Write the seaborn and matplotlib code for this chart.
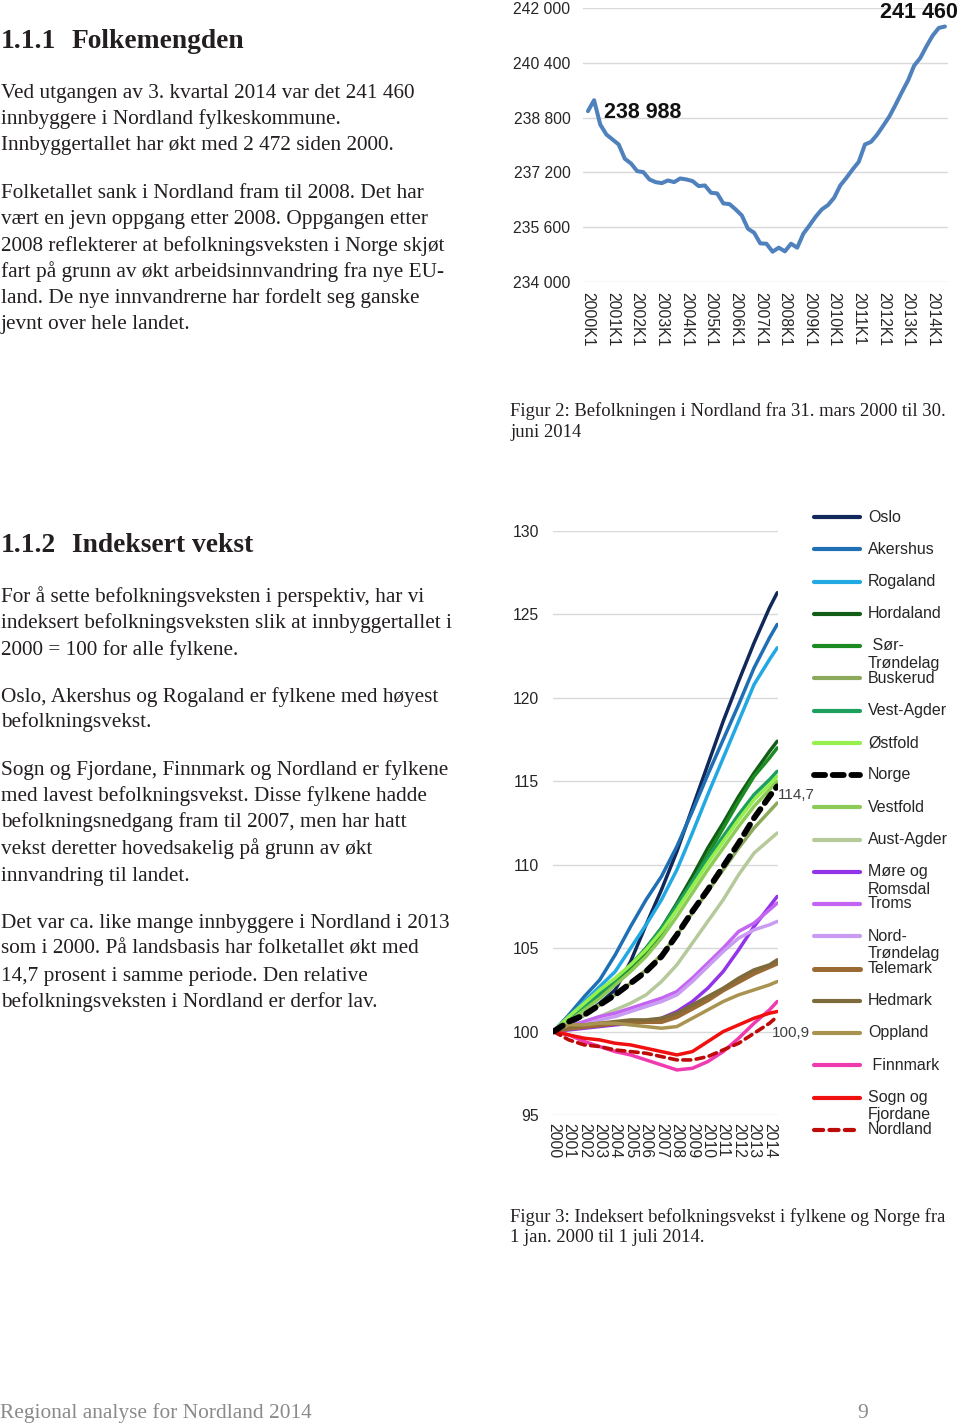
import numpy as np
import pandas as pd
import matplotlib
matplotlib.use('Agg')
import matplotlib.pyplot as plt
import seaborn as sns

# Figur 2: Befolkningen i Nordland (kvartal)
quarter_labels = ['{}K{}'.format(y, q) for y in range(2000, 2015) for q in range(1, 5)][:59]
nordland_pop = [238988, 239307, 238598, 238306, 238161, 238015, 237597, 237461,
                237237, 237208, 236994, 236916, 236887, 236965, 236916, 237023,
                236994, 236946, 236800, 236819, 236605, 236586, 236294, 236275,
                236119, 235944, 235556, 235439, 235128, 235118, 234885, 235002,
                234895, 235118, 235002, 235410, 235653, 235906, 236119, 236246,
                236460, 236819, 237043, 237286, 237509, 238015, 238093, 238306,
                238569, 238841, 239181, 239541, 239881, 240318, 240542, 240882,
                241193, 241417, 241460]
pop_ticks = [234000, 235600, 237200, 238800, 240400, 242000]
pop_tick_labels = ['234 000', '235 600', '237 200', '238 800', '240 400', '242 000']

# Figur 3: Indeksert befolkningsvekst (2000 = 100)
years = [2000, 2001, 2002, 2003, 2004, 2005, 2006, 2007, 2008, 2009, 2010, 2011, 2012, 2013, 2014, 2014.5]
year_ticks = [2000, 2001, 2002, 2003, 2004, 2005, 2006, 2007, 2008, 2009, 2010, 2011, 2012, 2013, 2014]
index_ticks = [95, 100, 105, 110, 115, 120, 125, 130]

oslo = [100, 100.4, 101.0, 101.7, 102.5, 104.2, 106.4, 108.5, 110.8, 113.4, 116.0, 118.6, 121.0, 123.3, 125.4, 126.3]
akershus = [100, 101.0, 102.1, 103.1, 104.6, 106.3, 107.9, 109.3, 111.1, 113.2, 115.4, 117.5, 119.6, 121.8, 123.6, 124.4]
rogaland = [100, 100.9, 101.8, 102.7, 103.6, 105.0, 106.4, 107.9, 109.7, 111.9, 114.2, 116.4, 118.6, 120.8, 122.3, 123.0]
hordaland = [100, 100.7, 101.4, 102.2, 103.0, 103.9, 105.0, 106.2, 107.7, 109.3, 111.0, 112.5, 114.1, 115.5, 116.8, 117.4]
sor_trondelag = [100, 100.8, 101.5, 102.2, 102.9, 103.7, 104.7, 105.9, 107.4, 109.0, 110.6, 112.2, 113.8, 115.3, 116.4, 117.0]
buskerud = [100, 100.5, 101.0, 101.6, 102.2, 102.9, 103.7, 104.6, 105.8, 107.1, 108.4, 109.7, 111.0, 112.2, 113.2, 113.7]
vest_agder = [100, 100.8, 101.5, 102.3, 103.1, 104.0, 105.0, 106.2, 107.6, 109.0, 110.4, 111.7, 113.0, 114.2, 115.1, 115.6]
ostfold = [100, 100.9, 101.7, 102.5, 103.2, 104.0, 104.9, 106.0, 107.3, 108.7, 110.1, 111.4, 112.7, 113.9, 114.8, 115.3]
norge = [100, 100.6, 101.0, 101.6, 102.2, 102.9, 103.6, 104.5, 105.8, 107.2, 108.5, 109.9, 111.3, 112.8, 114.1, 114.7]
vestfold = [100, 100.6, 101.3, 102.0, 102.8, 103.6, 104.5, 105.6, 106.9, 108.3, 109.7, 111.0, 112.3, 113.5, 114.5, 115.0]
aust_agder = [100, 100.3, 100.6, 100.9, 101.3, 101.7, 102.2, 103.0, 104.0, 105.3, 106.6, 107.9, 109.4, 110.7, 111.5, 111.9]
more_romsdal = [100, 100.1, 100.2, 100.3, 100.4, 100.5, 100.6, 100.8, 101.2, 101.8, 102.6, 103.6, 104.9, 106.3, 107.5, 108.1]
troms = [100, 100.3, 100.6, 100.9, 101.1, 101.4, 101.7, 102.0, 102.4, 103.2, 104.1, 105.0, 106.0, 106.5, 107.3, 107.7]
nord_trondelag = [100, 100.2, 100.4, 100.7, 100.9, 101.2, 101.5, 101.8, 102.2, 103.0, 103.9, 104.8, 105.6, 106.1, 106.4, 106.6]
telemark = [100, 100.2, 100.3, 100.4, 100.5, 100.6, 100.6, 100.6, 100.9, 101.4, 101.9, 102.5, 103.0, 103.5, 103.9, 104.1]
hedmark = [100, 100.3, 100.4, 100.5, 100.6, 100.7, 100.7, 100.8, 101.1, 101.6, 102.1, 102.6, 103.2, 103.7, 104.0, 104.3]
oppland = [100, 100.4, 100.4, 100.5, 100.5, 100.4, 100.3, 100.2, 100.3, 100.8, 101.3, 101.8, 102.2, 102.5, 102.8, 103.0]
finnmark = [100, 99.8, 99.4, 99.1, 98.8, 98.6, 98.3, 98.0, 97.7, 97.8, 98.2, 98.8, 99.6, 100.5, 101.3, 101.8]
sogn_fjordane = [100, 99.8, 99.6, 99.5, 99.3, 99.2, 99.0, 98.8, 98.6, 98.8, 99.4, 100.0, 100.4, 100.8, 101.1, 101.2]
nordland = [100, 99.5, 99.2, 99.1, 98.9, 98.8, 98.7, 98.5, 98.3, 98.3, 98.5, 98.9, 99.3, 99.9, 100.5, 100.9]

regions = ['Oslo', 'Akershus', 'Rogaland', 'Hordaland', ' Sør-\nTrøndelag', 'Buskerud', 'Vest-Agder',
           'Østfold', 'Norge', 'Vestfold', 'Aust-Agder', 'Møre og\nRomsdal', 'Troms', 'Nord-\nTrøndelag',
           'Telemark', 'Hedmark', 'Oppland', ' Finnmark', 'Sogn og\nFjordane', 'Nordland']
region_values = [oslo, akershus, rogaland, hordaland, sor_trondelag, buskerud, vest_agder,
                 ostfold, norge, vestfold, aust_agder, more_romsdal, troms, nord_trondelag,
                 telemark, hedmark, oppland, finnmark, sogn_fjordane, nordland]
colors = ['#10295A', '#1F6FB4', '#22A9E3', '#135E17', '#1C8C22', '#8DAA5C', '#1DA05E',
          '#96EF4B', '#000000', '#8CCB56', '#B6C99A', '#9234E8', '#C465F2', '#C99BF2',
          '#9A6A34', '#7E6B3C', '#A99350', '#F03AB0', '#F01010', '#BF0A0A']

# text
text_upper = ['Ved utgangen av 3. kvartal 2014 var det 241 460',
              'innbyggere i Nordland fylkeskommune.',
              'Innbyggertallet har økt med 2 472 siden 2000.',
              'Folketallet sank i Nordland fram til 2008. Det har',
              'vært en jevn oppgang etter 2008. Oppgangen etter',
              '2008 reflekterer at befolkningsveksten i Norge skjøt',
              'fart på grunn av økt arbeidsinnvandring fra nye EU-',
              'land. De nye innvandrerne har fordelt seg ganske',
              'jevnt over hele landet.']
baselines_upper = [98, 124, 150, 198, 224, 251, 277, 303, 329]
text_lower = ['For å sette befolkningsveksten i perspektiv, har vi',
              'indeksert befolkningsveksten slik at innbyggertallet i',
              '2000 = 100 for alle fylkene.',
              'Oslo, Akershus og Rogaland er fylkene med høyest',
              'befolkningsvekst.',
              'Sogn og Fjordane, Finnmark og Nordland er fylkene',
              'med lavest befolkningsvekst. Disse fylkene hadde',
              'befolkningsnedgang fram til 2007, men har hatt',
              'vekst deretter hovedsakelig på grunn av økt',
              'innvandring til landet.',
              'Det var ca. like mange innbyggere i Nordland i 2013',
              'som i 2000. På landsbasis har folketallet økt med',
              '14,7 prosent i samme periode. Den relative',
              'befolkningsveksten i Nordland er derfor lav.']
baselines_lower = [602, 628, 655, 702, 727, 775, 801, 827, 854, 881, 928, 954, 981, 1007]

sns.set_style('white')
plt.rcParams['font.family'] = ['Liberation Sans', 'DejaVu Sans']
serif = ['Liberation Serif', 'DejaVu Serif']
ink = '#231F20'
body_size = 15.35
tick_kw = dict(labelsize=11.3, labelcolor='#262626', length=0)

fig = plt.figure(figsize=(9.6, 14.23), dpi=100)

# ---- Figur 2 ----
ax1 = fig.add_axes([583 / 960, 1 - 282 / 1423, 365 / 960, 274 / 1423])
df_pop = pd.DataFrame({'quarter': np.arange(len(nordland_pop)), 'pop': nordland_pop})
sns.lineplot(data=df_pop, x='quarter', y='pop', color='#4F81BD', linewidth=2.9,
             solid_capstyle='round', solid_joinstyle='round', ax=ax1)
ax1.set_xlim(-0.8, 58.5)
ax1.set_ylim(234000, 242000)
ax1.set_yticks(pop_ticks, pop_tick_labels)
ax1.set_xticks(df_pop['quarter'][::4], quarter_labels[::4], rotation=-90)
ax1.tick_params(axis='y', pad=9, **tick_kw)
ax1.tick_params(axis='x', pad=7, **tick_kw)
ax1.yaxis.grid(True, color='#D9D9D9', linewidth=1)
ax1.set_xlabel('')
ax1.set_ylabel('')
sns.despine(ax=ax1, left=True, bottom=True)
ax1.annotate('238 988', xy=(0, nordland_pop[0]), xytext=(11.5, -1.2), textcoords='offset points',
             ha='left', va='center', fontsize=15.5, fontweight='bold', color='#111111')
ax1.annotate('241 460', xy=(len(nordland_pop) - 1, nordland_pop[-1]), xytext=(9.4, 10.4),
             textcoords='offset points', ha='right', va='center', fontsize=15.5,
             fontweight='bold', color='#111111')

# ---- Figur 3 ----
ax2 = fig.add_axes([553 / 960, 1 - 1115 / 1423, 225 / 960, 584 / 1423])
styles = {}
for name, vals, col in zip(regions, region_values, colors):
    key = name.strip()
    lw, ls, z = 2.5, '-', 2
    if key == 'Norge':
        lw, ls, z = 4.2, (0, (1.9, 1.3)), 5
    elif key == 'Nordland':
        lw, ls, z = 2.6, (0, (2.2, 1.5)), 4
    elif key == 'Telemark':
        lw = 3.6
    styles[name] = (lw, ls)
    sns.lineplot(x=years, y=vals, color=col, linewidth=lw, linestyle=ls, zorder=z,
                 dash_capstyle='round', solid_capstyle='round', ax=ax2)
ax2.set_xlim(1999.97, 2014.55)
ax2.set_ylim(95, 130)
ax2.set_yticks(index_ticks, [str(t) for t in index_ticks])
ax2.set_xticks(year_ticks, [str(y) for y in year_ticks], rotation=-90)
ax2.tick_params(axis='y', pad=10, **tick_kw)
ax2.tick_params(axis='x', pad=6, **tick_kw)
ax2.yaxis.grid(True, color='#D9D9D9', linewidth=1)
sns.despine(ax=ax2, left=True, bottom=True)
ax2.annotate('114,7', xy=(years[-1], norge[-1]), xytext=(0.5, -6), textcoords='offset points',
             ha='left', va='center', fontsize=11, color='#404040')
ax2.annotate('100,9', xy=(years[-1], nordland[-1]), xytext=(-3.5, -12), textcoords='offset points',
             ha='left', va='center', fontsize=11, color='#404040')

# ---- page text and legend (pixel coordinates) ----
page = fig.add_axes([0, 0, 1, 1])
page.set_xlim(0, 960)
page.set_ylim(1423, 0)
page.axis('off')
page.patch.set_alpha(0)

head_kw = dict(fontsize=19.8, fontweight='bold', family=serif, color=ink, va='baseline')
page.text(1, 48, '1.1.1', **head_kw)
page.text(72, 48, 'Folkemengden', **head_kw)
for line, yb in zip(text_upper, baselines_upper):
    page.text(1, yb, line, fontsize=body_size, family=serif, color=ink, va='baseline')
page.text(1, 552, '1.1.2', **head_kw)
page.text(72, 552, 'Indeksert vekst', **head_kw)
for line, yb in zip(text_lower, baselines_lower):
    page.text(1, yb, line, fontsize=body_size, family=serif, color=ink, va='baseline')

cap_kw = dict(fontsize=13.45, family=serif, color=ink, va='baseline')
page.text(510, 416, 'Figur 2: Befolkningen i Nordland fra 31. mars 2000 til 30.', **cap_kw)
page.text(510, 437, 'juni 2014', **cap_kw)
page.text(510, 1222, 'Figur 3: Indeksert befolkningsvekst i fylkene og Norge fra', **cap_kw)
page.text(510, 1242, '1 jan. 2000 til 1 juli 2014.', **cap_kw)

page.text(0, 1418, 'Regional analyse for Nordland 2014', fontsize=15.4, family=serif, color='#8A8A8A',
          va='baseline')
page.text(857, 1418, '9', fontsize=15.4, family=serif, color='#8A8A8A', va='baseline')

# legend
for i, (name, col) in enumerate(zip(regions, colors)):
    yr = 517 + i * 32.25
    lw, ls = styles[name]
    page.plot([814, 860], [yr, yr], color=col, linewidth=max(lw, 3.0), linestyle=ls,
              dash_capstyle='round', solid_capstyle='round')
    for k, part in enumerate(name.split('\n')):
        page.text(868, yr + k * 17.5, part, fontsize=11.5, color='#262626', va='center', ha='left')

fig.savefig('out.png', dpi=100)
